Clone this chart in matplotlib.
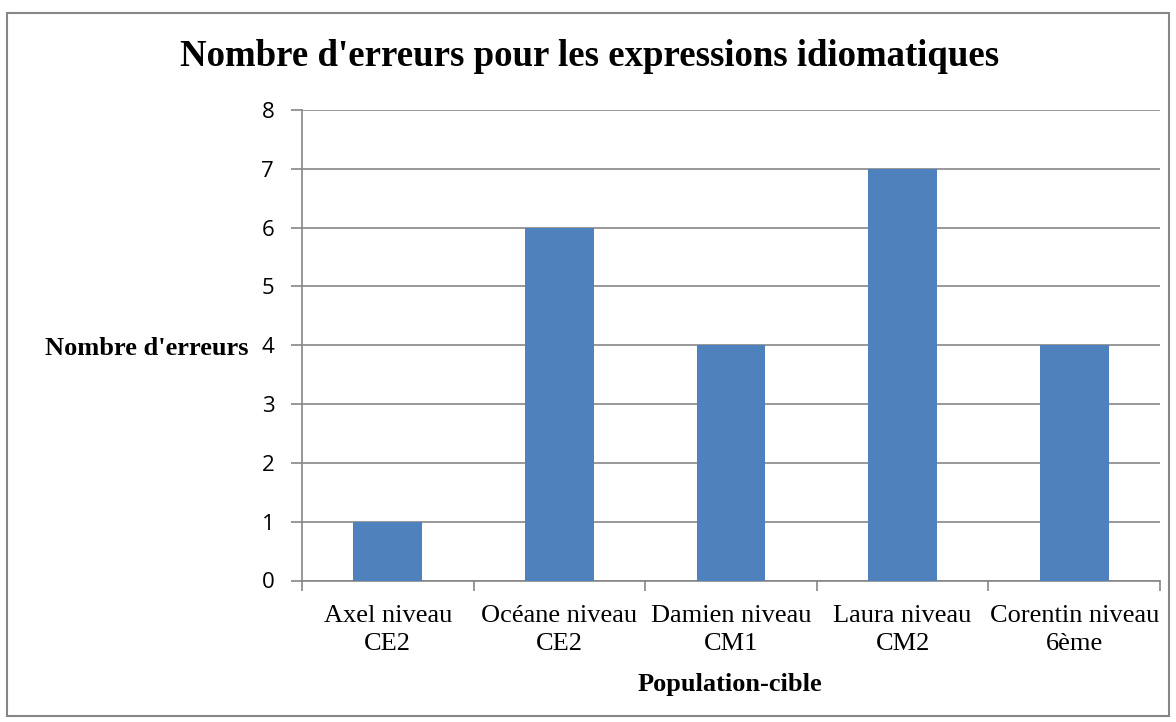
import matplotlib.pyplot as plt
from matplotlib.patches import Rectangle

categories = ["Axel niveau\nCE2", "Océane niveau\nCE2", "Damien niveau\nCM1",
              "Laura niveau\nCM2", "Corentin niveau\n6ème"]
errors = [1, 6, 4, 7, 4]
y_ticks = [0, 1, 2, 3, 4, 5, 6, 7, 8]

grid_color = "#868686"
bar_color = "#4F81BD"

fig = plt.figure(figsize=(11.76, 7.22), dpi=100)
ax = fig.add_axes([302 / 1176, 1 - 580.5 / 722, 858 / 1176, 470.5 / 722])

# chart border, Excel style
fig.patches.append(Rectangle((7 / 1176, 1 - 716 / 722), 1162 / 1176, 703 / 722,
                             transform=fig.transFigure, fill=False,
                             edgecolor=grid_color, linewidth=1.5))

x = list(range(len(categories)))
ax.bar(x, errors, width=0.4, color=bar_color, zorder=3)

ax.set_xlim(-0.5, len(categories) - 0.5)
ax.set_ylim(0, 8)
ax.set_yticks(y_ticks)
ax.set_yticklabels([str(v) for v in y_ticks], fontfamily="Open Sans", fontsize=16)
ax.yaxis.grid(True, color=grid_color, linewidth=1.2, zorder=0)

ax.set_xticks(x)
ax.set_xticklabels(categories, fontfamily="Liberation Serif", fontsize=19, linespacing=1.3)
ax.set_xticks([i - 0.5 for i in range(len(categories) + 1)], minor=True)
ax.tick_params(axis="x", which="major", length=0, pad=18)
ax.tick_params(axis="x", which="minor", length=7, color=grid_color, width=1.2)
ax.tick_params(axis="y", length=8, color=grid_color, width=1.2, pad=12)

for side in ("top", "right"):
    ax.spines[side].set_visible(False)
for side in ("left", "bottom"):
    ax.spines[side].set_color(grid_color)
    ax.spines[side].set_linewidth(1.2)

fig.text(590 / 1176, 1 - 57 / 722, "Nombre d'erreurs pour les expressions idiomatiques",
         ha="center", va="center", fontfamily="Liberation Serif", fontweight="bold", fontsize=26.5)
fig.text(147 / 1176, 1 - 348 / 722, "Nombre d'erreurs", ha="center", va="center",
         fontfamily="Liberation Serif", fontweight="bold", fontsize=19)
fig.text(730 / 1176, 1 - 684 / 722, "Population-cible", ha="center", va="center",
         fontfamily="Liberation Serif", fontweight="bold", fontsize=19)

fig.savefig("out.png", dpi=100)
